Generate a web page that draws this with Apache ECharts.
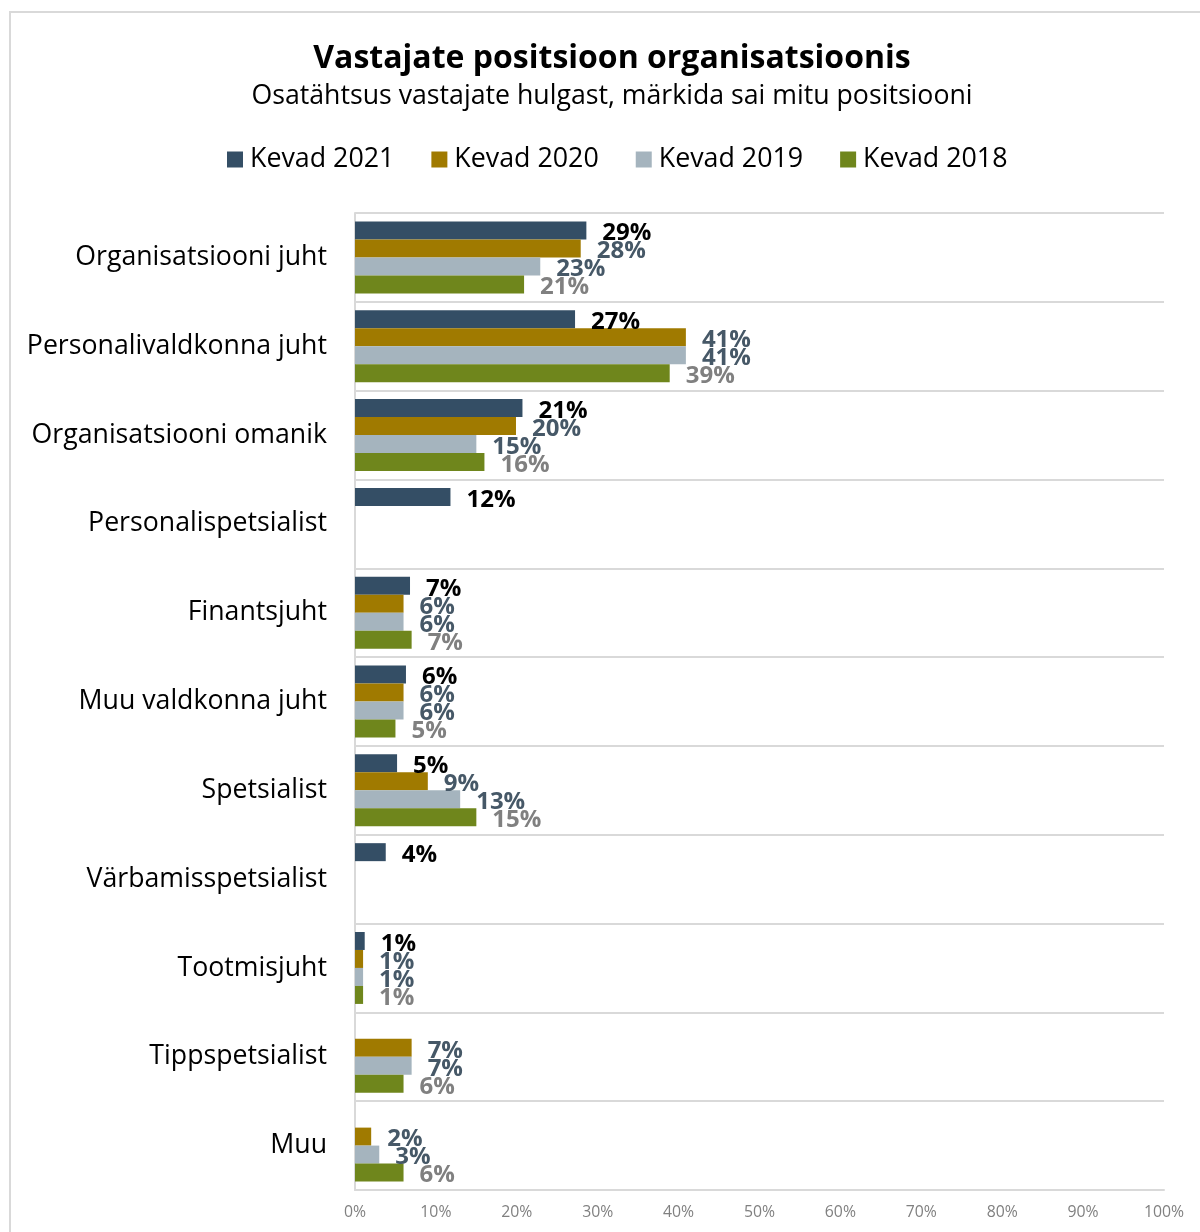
<!DOCTYPE html>
<html>
<head>
<meta charset="utf-8">
<script src="https://cdn.jsdelivr.net/npm/echarts@6/dist/echarts.min.js"></script>
<style>
  html, body { margin: 0; padding: 0; background: #fff; }
  #main { width: 1200px; height: 1232px; }
</style>
</head>
<body>
<div id="main"></div>
<script>
// kategooriad ja andmed
var categories = ['Organisatsiooni juht', 'Personalivaldkonna juht', 'Organisatsiooni omanik',
  'Personalispetsialist', 'Finantsjuht', 'Muu valdkonna juht', 'Spetsialist',
  'Värbamisspetsialist', 'Tootmisjuht', 'Tippspetsialist', 'Muu'];
var kevad2021 = [28.6, 27.2, 20.7, 11.8, 6.8, 6.3, 5.2, 3.8, 1.2, null, null];
var kevad2020 = [27.9, 40.9, 19.9, null, 6.0, 6.0, 9.0, null, 1.0, 7.0, 2.0];
var kevad2019 = [22.9, 40.9, 15.0, null, 6.0, 6.0, 13.0, null, 1.0, 7.0, 3.0];
var kevad2018 = [20.9, 38.9, 16.0, null, 7.0, 5.0, 15.0, null, 1.0, 6.0, 6.0];
var xTicks = [0, 10, 20, 30, 40, 50, 60, 70, 80, 90, 100];

var font = '"Open Sans", "Noto Sans", sans-serif';

function bar(name, data, color, labelColor) {
  return {
    name: name,
    type: 'bar',
    data: data,
    barGap: '0%',
    barCategoryGap: '19%',
    itemStyle: { color: color },
    label: {
      show: true,
      position: 'right',
      distance: 16,
      offset: [0, 3],
      fontFamily: font,
      fontWeight: 'bold',
      fontSize: 24,
      color: labelColor,
      formatter: function (p) { return Math.round(p.value) + '%'; }
    }
  };
}

var myChart = echarts.init(document.getElementById('main'));
var option = {
  backgroundColor: '#fff',
  animation: false,
  graphic: [{
    type: 'rect',
    shape: { x: 10, y: 12, width: 1220, height: 1250 },
    style: { fill: 'none', stroke: '#d9d9d9', lineWidth: 2 },
    silent: true
  }],
  title: [{
    text: 'Vastajate positsioon organisatsioonis',
    left: 607,
    textAlign: 'center',
    top: 38,
    textStyle: { fontFamily: font, fontWeight: 'bold', fontSize: 32, color: '#000' }
  }, {
    text: 'Osatähtsus vastajate hulgast, märkida sai mitu positsiooni',
    left: 607,
    textAlign: 'center',
    top: 78,
    textStyle: { fontFamily: font, fontWeight: 'normal', fontSize: 26.7, color: '#000' }
  }],
  legend: {
    top: 141,
    left: 222,
    itemWidth: 16,
    itemHeight: 16,
    itemGap: 37,
    icon: 'rect',
    textStyle: { fontFamily: font, fontSize: 26.8, color: '#000', padding: [0, 0, 0, 2] },
    data: ['Kevad 2021', 'Kevad 2020', 'Kevad 2019', 'Kevad 2018']
  },
  grid: { left: 355, right: 36, top: 213, bottom: 42, containLabel: false },
  xAxis: {
    type: 'value',
    min: 0,
    max: 100,
    interval: 10,
    axisLine: { show: true, lineStyle: { color: '#d9d9d9', width: 2 } },
    axisTick: { show: false },
    splitLine: { show: false },
    axisLabel: {
      fontFamily: font, fontSize: 15.8, color: '#808080', margin: 14,
      formatter: function (v) { return xTicks.indexOf(v) >= 0 ? v + '%' : ''; }
    }
  },
  yAxis: {
    type: 'category',
    inverse: true,
    data: categories,
    axisLine: { show: true, lineStyle: { color: '#d9d9d9', width: 2 } },
    axisTick: { show: false },
    splitLine: { show: true, lineStyle: { color: '#d9d9d9', width: 2 } },
    axisLabel: { fontFamily: font, fontSize: 26.7, color: '#000', margin: 28 }
  },
  series: [
    bar('Kevad 2021', kevad2021, '#344e65', '#000000'),
    bar('Kevad 2020', kevad2020, '#a07a00', '#465867'),
    bar('Kevad 2019', kevad2019, '#a5b4be', '#465867'),
    bar('Kevad 2018', kevad2018, '#6f861c', '#808080')
  ]
};
myChart.setOption(option);
</script>
</body>
</html>
